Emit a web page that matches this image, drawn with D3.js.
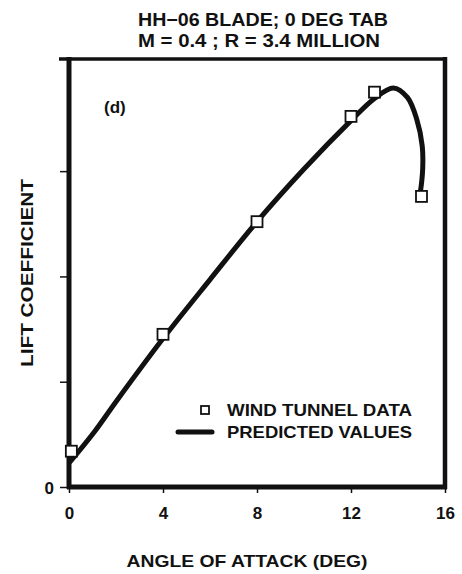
<!DOCTYPE html>
<html>
<head>
<meta charset="utf-8">
<script src="https://cdn.jsdelivr.net/npm/d3@7"></script>
<style>
  html, body { margin: 0; padding: 0; background: #fff; }
  svg { display: block; }
  text { font-family: "Liberation Sans", Arial, Helvetica, sans-serif; font-weight: bold; fill: #111; }
</style>
</head>
<body>
<script>
// ---- data ----
const titleLines = ["HH\u221206 BLADE; 0 DEG TAB", "M = 0.4 ; R = 3.4 MILLION"];
const panelLabel = "(d)";
const xLabel = "ANGLE OF  ATTACK (DEG)";
const yLabel = "LIFT COEFFICIENT";
const legendLabels = ["WIND TUNNEL DATA", "PREDICTED VALUES"];

const xTicks = [0, 4, 8, 12, 16];
const xTickLabels = ["0", "4", "8", "12", "16"];
const yTicks = [0, 1, 2, 3];
const yTickLabels = ["0", "", "", ""];

// wind tunnel data (angle, lift coefficient in chart units)
const tunnelAlpha = [0.1, 4, 8, 12, 13, 15];
const tunnelCl    = [0.34, 1.45, 2.52, 3.52, 3.75, 2.76];

// predicted values curve (angle, lift coefficient)
const predAlpha = [0.05, 1.1, 2, 4, 6, 8, 10, 12, 13, 13.8, 14.4, 14.8, 15.03, 15.05, 14.95];
const predCl    = [0.24, 0.53, 0.81, 1.41, 1.97, 2.52, 3.02, 3.48, 3.69, 3.79, 3.70, 3.49, 3.24, 3.02, 2.80];

// ---- layout ----
const W = 462, H = 574;
const plot = { left: 69, right: 445, top: 59, bottom: 487 };

const svg = d3.select("body").append("svg").attr("width", W).attr("height", H);
svg.append("rect").attr("width", W).attr("height", H).attr("fill", "#fff");

const x = d3.scaleLinear().domain([0, 16]).range([plot.left, plot.right]);
const y = d3.scaleLinear().domain([0, 4.065]).range([plot.bottom, plot.top]);

// title
svg.append("text").attr("x", 263).attr("y", 26).attr("text-anchor", "middle")
  .attr("font-size", 18).attr("textLength", 250).attr("lengthAdjust", "spacingAndGlyphs")
  .text(titleLines[0]);
svg.append("text").attr("x", 259).attr("y", 47).attr("text-anchor", "middle")
  .attr("font-size", 18).attr("textLength", 242).attr("lengthAdjust", "spacingAndGlyphs")
  .text(titleLines[1]);

// axes
const xAxis = d3.axisBottom(x).tickValues(xTicks).tickSize(6).tickPadding(14)
  .tickFormat((d, i) => xTickLabels[i]);
const gx = svg.append("g").attr("transform", `translate(0,${plot.bottom})`).call(xAxis);
gx.select(".domain").remove();
gx.selectAll(".tick line").attr("stroke", "#111").attr("stroke-width", 1.5);
gx.selectAll(".tick text").attr("font-size", 17).attr("font-family", "Liberation Sans, Arial, sans-serif")
  .attr("font-weight", "bold").attr("fill", "#111");

const yAxis = d3.axisLeft(y).tickValues(yTicks).tickSize(9).tickPadding(6)
  .tickFormat((d, i) => yTickLabels[i]);
const gy = svg.append("g").attr("transform", `translate(${plot.left},0)`).call(yAxis);
gy.select(".domain").remove();
gy.selectAll(".tick line").attr("stroke", "#111").attr("stroke-width", 1.5);
gy.selectAll(".tick text").attr("font-size", 17).attr("font-family", "Liberation Sans, Arial, sans-serif")
  .attr("font-weight", "bold").attr("fill", "#111").attr("dy", "0.4em");

// frame
const frame = svg.append("g").attr("stroke", "#111").attr("fill", "none");
frame.append("line").attr("x1", plot.left - 10).attr("x2", plot.right + 1).attr("y1", plot.top).attr("y2", plot.top).attr("stroke-width", 3.5);
frame.append("line").attr("x1", plot.right).attr("x2", plot.right).attr("y1", plot.top - 2).attr("y2", plot.bottom + 2).attr("stroke-width", 4.5);
frame.append("line").attr("x1", plot.left).attr("x2", plot.left).attr("y1", plot.top - 2).attr("y2", plot.bottom + 2).attr("stroke-width", 5);
frame.append("line").attr("x1", plot.left - 2).attr("x2", plot.right + 2).attr("y1", plot.bottom).attr("y2", plot.bottom).attr("stroke-width", 5);

// axis labels
svg.append("text").attr("x", 247).attr("y", 567).attr("text-anchor", "middle")
  .attr("font-size", 17).attr("textLength", 241).attr("lengthAdjust", "spacingAndGlyphs")
  .text(xLabel);
svg.append("text").attr("transform", "translate(33,273) rotate(-90)").attr("text-anchor", "middle")
  .attr("font-size", 17).attr("textLength", 188).attr("lengthAdjust", "spacingAndGlyphs")
  .text(yLabel);

// panel label
svg.append("text").attr("x", 104).attr("y", 113).attr("font-size", 17).text(panelLabel);

// predicted curve
const predPts = predAlpha.map((a, i) => [a, predCl[i]]);
const line = d3.line().x(d => x(d[0])).y(d => y(d[1])).curve(d3.curveCatmullRom.alpha(0.5));
svg.append("path").datum(predPts).attr("d", line)
  .attr("fill", "none").attr("stroke", "#111").attr("stroke-width", 5)
  .attr("stroke-linecap", "round").attr("stroke-linejoin", "round");

// tunnel squares
const sq = 11;
svg.append("g").selectAll("rect").data(tunnelAlpha.map((a, i) => [a, tunnelCl[i]])).join("rect")
  .attr("x", d => x(d[0]) - sq / 2).attr("y", d => y(d[1]) - sq / 2)
  .attr("width", sq).attr("height", sq)
  .attr("fill", "#fff").attr("stroke", "#111").attr("stroke-width", 1.8);

// legend
const lg = svg.append("g");
lg.append("rect").attr("x", 201).attr("y", 406).attr("width", 8).attr("height", 8)
  .attr("fill", "#fff").attr("stroke", "#111").attr("stroke-width", 1.8);
lg.append("line").attr("x1", 178).attr("x2", 212).attr("y1", 432).attr("y2", 432)
  .attr("stroke", "#111").attr("stroke-width", 5).attr("stroke-linecap", "round");
lg.append("text").attr("x", 227).attr("y", 416).attr("font-size", 16.5)
  .attr("textLength", 185).attr("lengthAdjust", "spacingAndGlyphs").text(legendLabels[0]);
lg.append("text").attr("x", 227).attr("y", 438).attr("font-size", 16.5)
  .attr("textLength", 185).attr("lengthAdjust", "spacingAndGlyphs").text(legendLabels[1]);
</script>
</body>
</html>
